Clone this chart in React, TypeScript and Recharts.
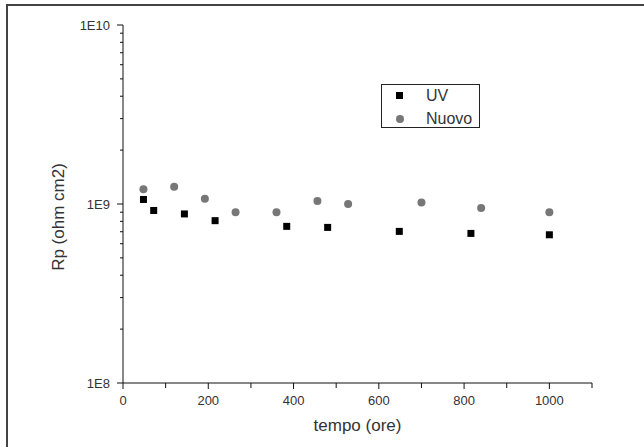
import { ScatterChart, Scatter, XAxis, YAxis, Legend } from 'recharts';

// hours of exposure
const uvHours = [48, 72, 144, 216, 384, 480, 648, 816, 1000];
const uvRp = [1.06e9, 9.2e8, 8.8e8, 8.07e8, 7.5e8, 7.4e8, 7.03e8, 6.85e8, 6.73e8];

const nuovoHours = [48, 120, 192, 264, 360, 456, 528, 700, 840, 1000];
const nuovoRp = [1.21e9, 1.25e9, 1.07e9, 9.0e8, 9.0e8, 1.04e9, 1.0e9, 1.02e9, 9.5e8, 9.0e8];

const xTicks = [0, 100, 200, 300, 400, 500, 600, 700, 800, 900, 1000, 1100];
const xLabels = [0, 200, 400, 600, 800, 1000];
const yTicks = [
  1e8, 2e8, 3e8, 4e8, 5e8, 6e8, 7e8, 8e8, 9e8,
  1e9, 2e9, 3e9, 4e9, 5e9, 6e9, 7e9, 8e9, 9e9, 1e10,
];

const uvData = uvHours.map((t, i) => ({ t, rp: uvRp[i] }));
const nuovoData = nuovoHours.map((t, i) => ({ t, rp: nuovoRp[i] }));

const FONT = '"Liberation Sans", Arial, sans-serif';
const TEXT = '#333';
const AXIS = '#111';

const isDecade = (v: number) => {
  const l = Math.log10(v);
  return Math.abs(l - Math.round(l)) < 1e-6;
};

const XTick = ({ x, y, payload }: any) => {
  const major = xLabels.includes(payload.value);
  return (
    <g>
      <line x1={x} x2={x} y1={y} y2={y + (major ? 6 : 5)} stroke={AXIS} strokeWidth={1} />
      {major && (
        <text x={x} y={y + 22} textAnchor="middle" fontSize={13} fill={TEXT} fontFamily={FONT}>
          {payload.value}
        </text>
      )}
    </g>
  );
};

const YTick = ({ x, y, payload }: any) => {
  const major = isDecade(payload.value);
  return (
    <g>
      <line x1={x - (major ? 6 : 3)} x2={x} y1={y} y2={y} stroke={AXIS} strokeWidth={1} />
      {major && (
        <text x={x - 13} y={y} dy="0.35em" textAnchor="end" fontSize={13} fill={TEXT} fontFamily={FONT}>
          {`1E${Math.round(Math.log10(payload.value))}`}
        </text>
      )}
    </g>
  );
};

const SquareDot = ({ cx, cy }: any) => (
  <rect x={cx - 3.5} y={cy - 3.5} width={7} height={7} fill="#000" />
);

const RoundDot = ({ cx, cy }: any) => <circle cx={cx} cy={cy} r={4} fill="#777" />;

const LegendBox = () => (
  <div
    style={{
      position: 'relative',
      width: 99,
      height: 44,
      border: '1px solid #222',
      boxSizing: 'border-box',
      background: '#fff',
      fontFamily: FONT,
      fontSize: 16,
      color: TEXT,
    }}
  >
    <div style={{ position: 'absolute', left: 14, top: 7, width: 7, height: 7, background: '#000' }} />
    <div style={{ position: 'absolute', left: 44, top: 1, lineHeight: '20px' }}>UV</div>
    <div style={{ position: 'absolute', left: 14, top: 30, width: 8, height: 8, borderRadius: 4, background: '#777' }} />
    <div style={{ position: 'absolute', left: 44, top: 24, lineHeight: '20px' }}>Nuovo</div>
  </div>
);

export default function App() {
  return (
    <div style={{ position: 'absolute', left: 0, top: 0, width: 644, height: 447, background: '#fff', overflow: 'hidden' }}>
      <div style={{ position: 'absolute', left: 6, top: 4, width: 638, height: 2, background: '#444' }} />
      <div style={{ position: 'absolute', left: 6, top: 4, width: 2, height: 443, background: '#444' }} />
      <ScatterChart width={644} height={447} margin={{ top: 25, right: 52, bottom: 0, left: 0 }}>
        <XAxis
          type="number"
          dataKey="t"
          domain={[0, 1100]}
          ticks={xTicks}
          interval={0}
          tick={<XTick />}
          tickLine={false}
          tickSize={0}
          tickMargin={0}
          height={64}
          axisLine={{ stroke: AXIS }}
          allowDataOverflow
          label={{
            content: ({ viewBox }: any) => (
              <text
                x={viewBox.x + viewBox.width / 2}
                y={viewBox.y + 48}
                textAnchor="middle"
                fontSize={17}
                fill={TEXT}
                fontFamily={FONT}
              >
                tempo (ore)
              </text>
            ),
          }}
        />
        <YAxis
          type="number"
          dataKey="rp"
          scale="log"
          domain={[1e8, 1e10]}
          ticks={yTicks}
          interval={0}
          tick={<YTick />}
          tickLine={false}
          tickSize={0}
          tickMargin={0}
          width={123}
          axisLine={{ stroke: AXIS }}
          allowDataOverflow
          label={{
            content: ({ viewBox }: any) => {
              const cx = 58;
              const cy = viewBox.y + viewBox.height / 2 + 13;
              return (
                <text
                  x={cx}
                  y={cy}
                  transform={`rotate(-90 ${cx} ${cy})`}
                  textAnchor="middle"
                  dominantBaseline="central"
                  fontSize={17}
                  fill={TEXT}
                  fontFamily={FONT}
                >
                  Rp (ohm cm2)
                </text>
              );
            },
          }}
        />
        <Legend
          layout="vertical"
          align="center"
          verticalAlign="middle"
          content={<LegendBox />}
          wrapperStyle={{ left: 381, top: 84, width: 99, height: 44 }}
        />
        <Scatter name="UV" data={uvData} shape={<SquareDot />} isAnimationActive={false} />
        <Scatter name="Nuovo" data={nuovoData} shape={<RoundDot />} isAnimationActive={false} />
      </ScatterChart>
    </div>
  );
}
